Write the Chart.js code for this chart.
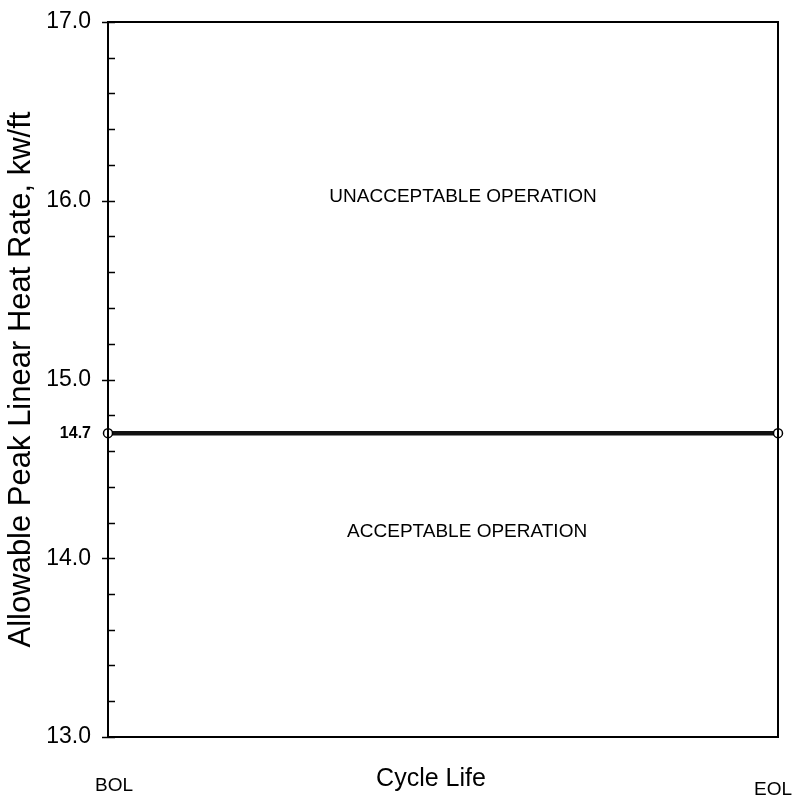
<!DOCTYPE html>
<html><head><meta charset="utf-8">
<script src="https://cdn.jsdelivr.net/npm/chart.js@4/dist/chart.umd.min.js"></script>
<style>html,body{margin:0;padding:0;background:#fff}#wrap{width:794px;height:801px;position:relative}</style>
</head><body><div id="wrap"><canvas id="c"></canvas></div>
<script>
// ---- data ----
const cycleLabels = ['BOL', 'EOL'];
const cyclePos = [0, 1];
const peakLHR = [14.7, 14.7];
const yTickValues = [13.0, 14.0, 15.0, 16.0, 17.0];
const markedValue = 14.7;
const regionLabels = ['UNACCEPTABLE OPERATION', 'ACCEPTABLE OPERATION'];
const xTitle = 'Cycle Life';
const yTitle = 'Allowable Peak Linear Heat Rate, kw/ft';

const FONT = '"Liberation Sans", Arial, sans-serif';

const decor = {
  id: 'decor',
  afterDraw(chart) {
    const {ctx, chartArea: a, scales: {x, y}} = chart;
    ctx.save();
    // frame
    ctx.strokeStyle = '#000';
    ctx.lineWidth = 2;
    ctx.strokeRect(a.left, a.top, a.right - a.left, a.bottom - a.top);
    // ticks on left axis
    ctx.lineWidth = 1.5;
    for (let i = 0; i <= 20; i++) {
      const v = 13 + i * 0.2;
      const py = Math.round(y.getPixelForValue(v)) + 0.5;
      const major = i % 5 === 0;
      ctx.beginPath();
      ctx.moveTo(a.left - (major ? 6 : 0), py);
      ctx.lineTo(a.left + 7, py);
      ctx.stroke();
    }
    // region labels
    ctx.fillStyle = '#000';
    ctx.textAlign = 'center';
    ctx.textBaseline = 'middle';
    ctx.font = '19px ' + FONT;
    ctx.fillText(regionLabels[0], x.getPixelForValue(0.53), y.getPixelForValue(16.02));
    ctx.fillText(regionLabels[1], x.getPixelForValue(0.536), y.getPixelForValue(14.15));
    // category labels
    ctx.font = '19px ' + FONT;
    ctx.fillText(cycleLabels[0], x.getPixelForValue(cyclePos[0]) + 6, a.bottom + 49);
    ctx.fillText(cycleLabels[1], x.getPixelForValue(cyclePos[1]) - 5, a.bottom + 53);
    // x title
    ctx.font = '25px ' + FONT;
    ctx.fillText(xTitle, (a.left + a.right) / 2 - 12, a.bottom + 42);
    ctx.restore();
  }
};

new Chart(document.getElementById('c'), {
  type: 'line',
  data: {
    datasets: [{
      data: cyclePos.map((p, i) => ({x: p, y: peakLHR[i]})),
      borderColor: '#111',
      borderWidth: 4.5,
      pointRadius: 4.5,
      pointHoverRadius: 4.5,
      pointBackgroundColor: '#fff',
      pointBorderColor: '#000',
      pointBorderWidth: 1.5,
      clip: false,
      tension: 0
    }]
  },
  options: {
    responsive: true,
    maintainAspectRatio: false,
    animation: false,
    events: [],
    layout: {padding: {left: 0, right: 16, top: 22, bottom: 64}},
    plugins: {legend: {display: false}, tooltip: {enabled: false}},
    scales: {
      x: {type: 'linear', min: 0, max: 1, display: false},
      y: {
        type: 'linear', min: 13, max: 17,
        afterFit(s) { s.width = 108; s.paddingTop = 0; s.paddingBottom = 0; },
        afterBuildTicks(s) {
          s.ticks = yTickValues.concat([markedValue]).map(v => ({value: v}));
        },
        grid: {display: false, drawTicks: false},
        border: {display: false},
        ticks: {
          padding: 17,
          color: '#000',
          callback: v => v.toFixed(1),
          font: ctx => (ctx.tick && ctx.tick.value === markedValue)
            ? {family: FONT, size: 16, weight: 'bold'}
            : {family: FONT, size: 23}
        },
        title: {
          display: true,
          text: yTitle,
          color: '#000',
          font: {family: FONT, size: 31},
          padding: {top: 3, bottom: 0}
        }
      }
    }
  },
  plugins: [decor]
});
</script>
</body></html>
